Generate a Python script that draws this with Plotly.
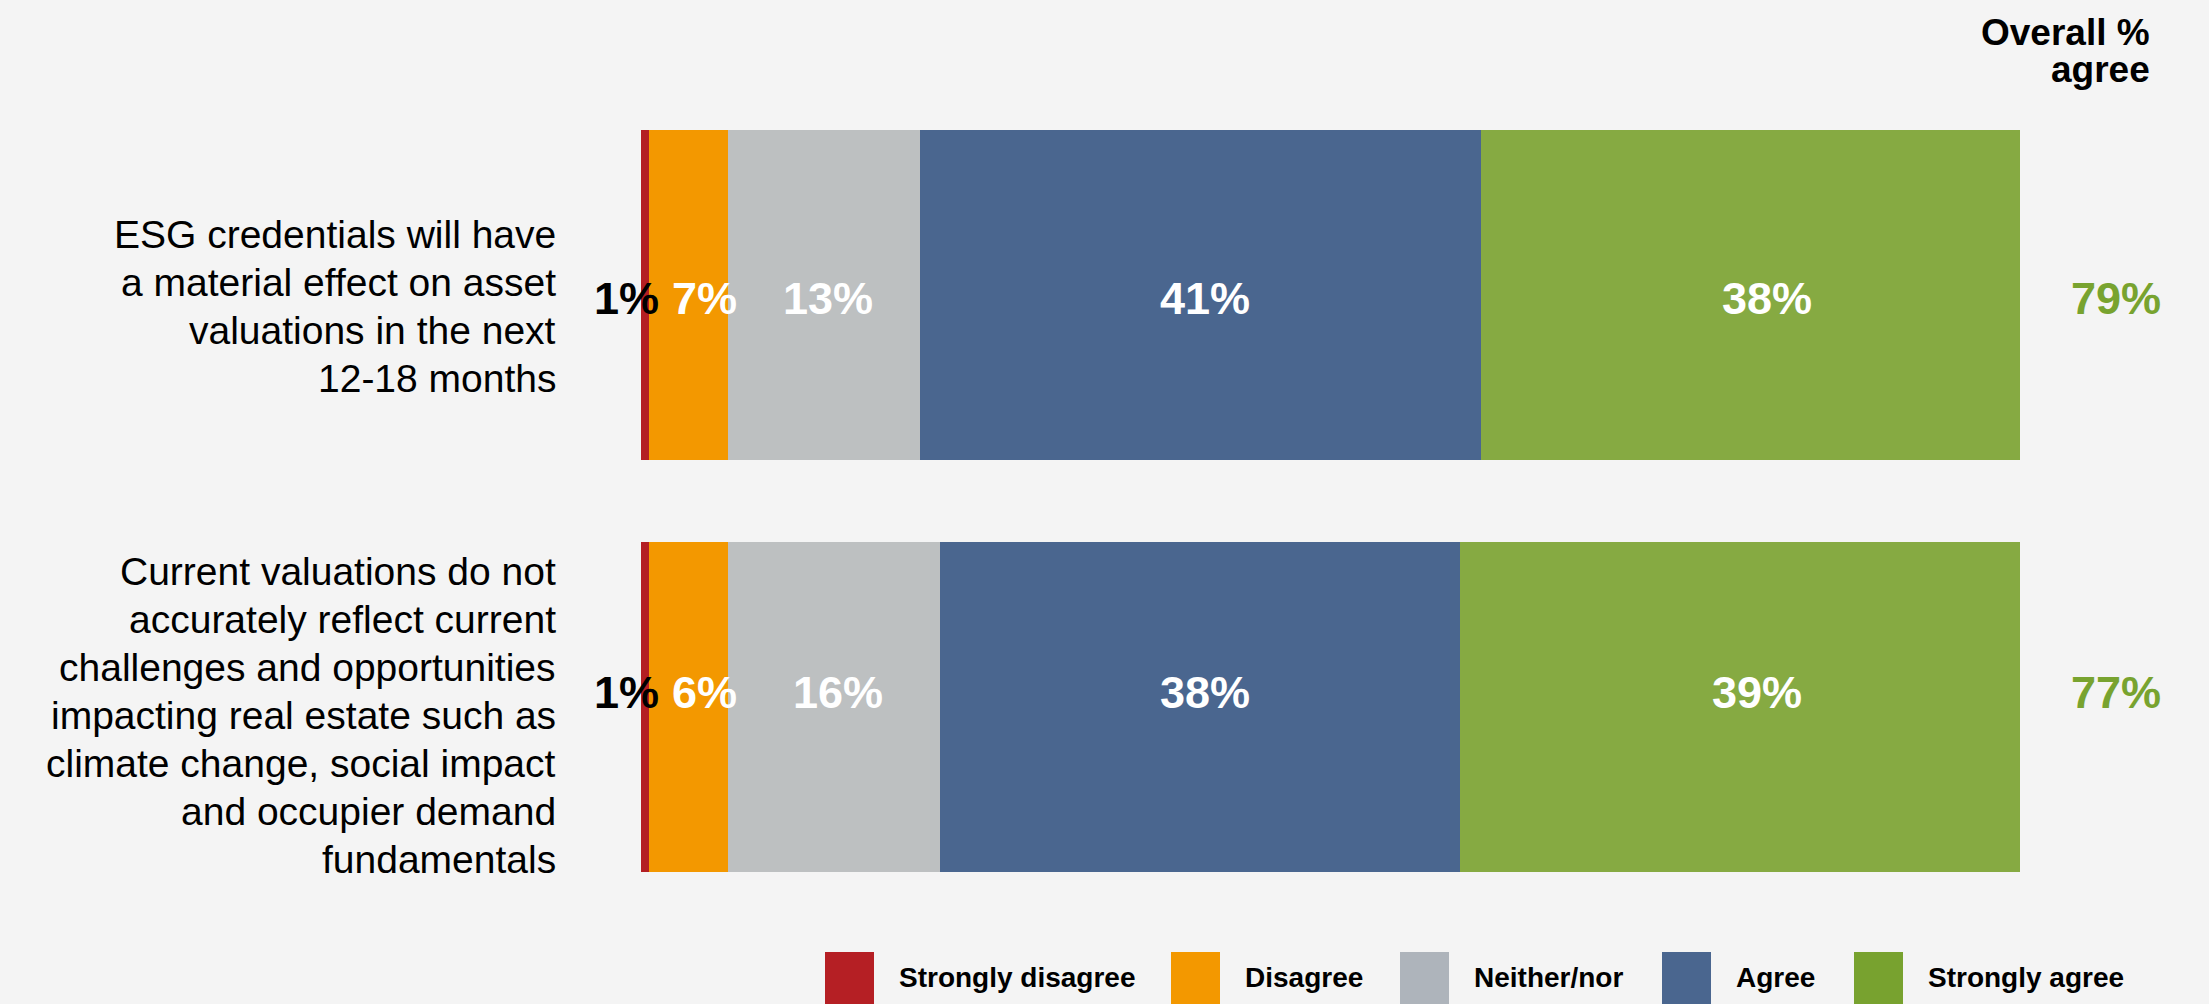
import plotly.graph_objects as go

# ---------------- data ----------------
questions = [
    "ESG credentials will have a material effect on asset valuations in the next 12-18 months",
    "Current valuations do not accurately reflect current challenges and opportunities impacting real estate such as climate change, social impact and occupier demand fundamentals",
]
question_lines = [
    ["ESG credentials will have", "a material effect on asset", "valuations in the next", "12-18 months"],
    ["Current valuations do not", "accurately reflect current", "challenges and opportunities",
     "impacting real estate such as", "climate change, social impact",
     "and occupier demand", "fundamentals"],
]
responses = ["Strongly disagree", "Disagree", "Neither/nor", "Agree", "Strongly agree"]

# bar lengths (% of respondents, as drawn)
strongly_disagree = [0.6, 0.6]
disagree = [5.7, 5.7]
neither_nor = [13.9, 15.4]
agree = [40.7, 37.7]
strongly_agree = [39.2, 40.7]

# printed labels
label_strongly_disagree = ["1%", "1%"]
label_disagree = ["7%", "6%"]
label_neither_nor = ["13%", "16%"]
label_agree = ["41%", "38%"]
label_strongly_agree = ["38%", "39%"]
overall_agree = ["79%", "77%"]

# ---------------- style ----------------
W, H = 2209, 1004
BG = "#f4f4f4"
bar_colors = ["#b31e23", "#f39800", "#bdc0c1", "#4a668f", "#86aa42"]
legend_colors = ["#b51f24", "#f39800", "#aeb4bb", "#4a668f", "#78a22f"]
overall_color = "#78a32f"
FONT = "Liberation Sans, Arial, Helvetica, sans-serif"
value_label_yshift = [-4, 14]
value_label_xshift = [-19, 16, 4, 5, 16]
question_label_yshift = [-12, -9]
legend_x = [825, 1171, 1400, 1662, 1854]


def px(x):
    return x / W


def py(y):
    return 1 - y / H


series = [strongly_disagree, disagree, neither_nor, agree, strongly_agree]
labels = [label_strongly_disagree, label_disagree, label_neither_nor, label_agree, label_strongly_agree]

fig = go.Figure()
for name, vals, col in zip(responses, series, bar_colors):
    fig.add_trace(go.Bar(
        y=questions, x=vals, name=name, orientation="h",
        marker=dict(color=col, line=dict(width=0)),
        width=0.8, showlegend=False, hoverinfo="x+name",
    ))

annotations = []
# segment labels
for qi, q in enumerate(questions):
    start = 0.0
    for si, (vals, labs) in enumerate(zip(series, labels)):
        v = vals[qi]
        centre = start + v / 2
        start += v
        annotations.append(dict(
            x=centre, y=q, xref="x", yref="y", text=labs[qi], showarrow=False,
            xanchor="center", yanchor="middle",
            xshift=value_label_xshift[si], yshift=value_label_yshift[qi],
            font=dict(family=FONT, size=45, color="black" if si == 0 else "white", weight="bold"),
        ))
    # overall % agree
    annotations.append(dict(
        x=100, y=q, xref="x", yref="y", text=overall_agree[qi], showarrow=False,
        xanchor="center", yanchor="middle", xshift=96, yshift=value_label_yshift[qi],
        font=dict(family=FONT, size=45, color=overall_color, weight="bold"),
    ))
    # question labels, line by line
    lines = question_lines[qi]
    n = len(lines)
    for j, line in enumerate(lines):
        annotations.append(dict(
            x=px(558), y=q, xref="paper", yref="y", text=line, showarrow=False,
            xanchor="right", yanchor="middle", align="right",
            yshift=-(j - (n - 1) / 2) * 48 + question_label_yshift[qi],
            font=dict(family=FONT, size=39, color="black"),
        ))

# header
for txt, yc in [("Overall %", 33), ("agree", 70)]:
    annotations.append(dict(
        x=px(2152), y=py(yc), xref="paper", yref="paper", text=txt, showarrow=False,
        xanchor="right", yanchor="middle",
        font=dict(family=FONT, size=37, color="black", weight="bold"),
    ))

# custom legend
shapes = []
for name, col, x0 in zip(responses, legend_colors, legend_x):
    shapes.append(dict(type="rect", xref="paper", yref="paper",
                       x0=px(x0), x1=px(x0 + 49), y0=py(1004), y1=py(952),
                       fillcolor=col, line=dict(width=0), layer="above"))
    annotations.append(dict(
        x=px(x0 + 72), y=py(977), xref="paper", yref="paper", text=name, showarrow=False,
        xanchor="left", yanchor="middle",
        font=dict(family=FONT, size=28, color="black", weight="bold"),
    ))

fig.update_layout(
    width=W, height=H,
    barmode="stack",
    paper_bgcolor=BG, plot_bgcolor=BG,
    margin=dict(l=0, r=0, t=0, b=0),
    xaxis=dict(domain=[px(641), px(2020)], range=[0, 100], visible=False, fixedrange=True),
    yaxis=dict(type="category", range=[1.721, -0.716], visible=False, fixedrange=True),
    annotations=annotations,
    shapes=shapes,
    showlegend=False,
)

fig.write_html(
    "out.html",
    config={"displayModeBar": False},
    post_script="document.body.style.margin='0';document.body.style.overflow='hidden';document.body.style.background='%s';" % BG,
)
